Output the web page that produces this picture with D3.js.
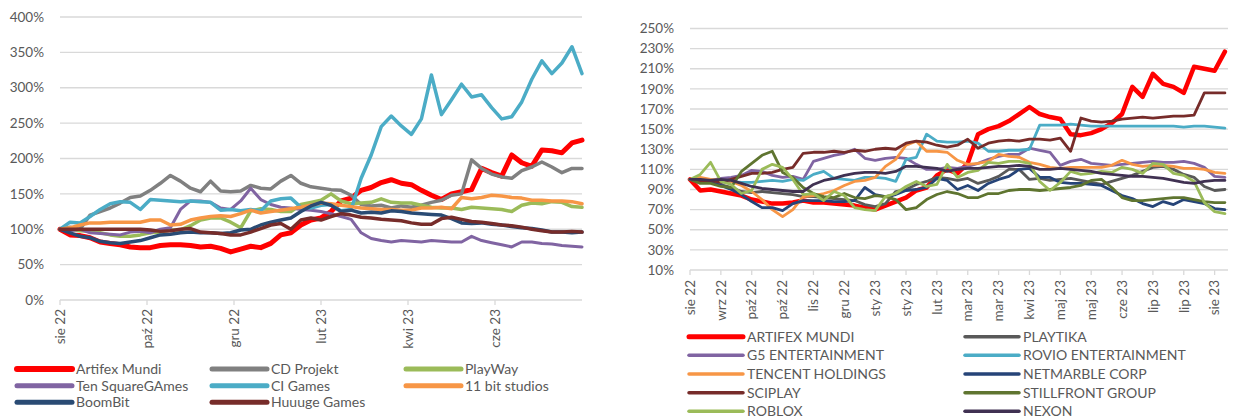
<!DOCTYPE html>
<html><head><meta charset="utf-8">
<script src="https://cdn.jsdelivr.net/npm/d3@7"></script>
<style>
body{margin:0;background:#fff;}
svg{display:block;font-family:Lato,"Open Sans",sans-serif;}
</style>
</head><body>
<svg id="chart" width="1233" height="418"></svg>
<script>
// ---------- LEFT PANEL DATA (weekly samples, % of start) ----------
const leftTickLabels = ["sie 22","paź 22","gru 22","lut 23","kwi 23","cze 23"];
const leftNames = ["Artifex Mundi","CD Projekt","PlayWay","Ten SquareGAmes","CI Games","11 bit studios","BoomBit","Huuuge Games"];
const leftColors = ["#FF0000","#808080","#9BBB59","#8064A2","#4BACC6","#F79646","#2A4B74","#772C2A"];

const artifexL = [100,92,91,88,82,80,78,75,74,74,77,78,78,77,75,76,73,68,72,76,74,80,92,95,106,113,116,125,140,144,155,159,166,170,165,163,155,148,142,150,153,156,186,180,175,205,194,189,212,211,208,222,226];
const cdProjektL = [100,103,100,120,125,130,137,145,147,155,165,176,168,158,153,168,154,153,154,162,158,157,168,176,165,160,158,156,155,148,135,133,134,130,133,131,134,138,141,148,150,198,186,178,174,172,183,188,195,188,180,186,186];
const playWayL = [100,100,98,97,95,92,90,90,92,95,96,99,99,105,113,116,116,110,102,126,129,128,125,125,135,138,141,150,140,136,137,138,143,138,137,137,134,131,130,130,128,131,130,129,128,125,134,137,136,139,138,132,131];
const tenSquareL = [100,98,100,95,94,93,92,96,97,95,100,102,128,140,140,138,130,128,140,158,142,135,131,130,128,127,125,122,118,114,95,87,84,82,84,83,82,84,83,82,82,90,84,81,78,75,82,82,80,79,77,76,75];
const ciGamesL = [100,110,109,118,128,136,139,138,128,142,141,140,139,140,139,138,127,128,126,128,126,140,143,144,131,130,134,135,126,128,172,205,245,260,246,234,256,318,262,283,305,287,290,272,256,259,280,312,338,320,335,358,320];
const elevenBitL = [100,102,106,109,109,110,110,110,110,113,113,106,107,113,116,118,119,118,122,127,123,125,127,129,131,134,137,136,134,132,130,129,128,128,127,127,130,130,131,129,145,143,145,148,147,145,144,141,141,140,140,139,136];
const boomBitL = [100,95,90,88,83,81,80,82,84,88,92,93,95,96,95,95,94,95,99,100,106,110,113,116,125,133,138,134,125,127,123,124,123,126,125,123,122,121,120,115,109,108,109,107,106,104,102,101,99,96,96,95,96];
const huuugeL = [100,100,100,100,100,100,100,100,100,99,97,98,100,101,96,95,94,92,92,96,101,106,108,100,113,116,113,118,122,120,117,116,114,113,112,109,107,107,115,117,114,111,110,108,106,105,103,100,98,96,96,97,96];
const leftSeries = [artifexL,cdProjektL,playWayL,tenSquareL,ciGamesL,elevenBitL,boomBitL,huuugeL];

// ---------- RIGHT PANEL DATA ----------
const rightTickLabels = ["sie 22","wrz 22","paź 22","paź 22","lis 22","gru 22","sty 23","sty 23","lut 23","mar 23","mar 23","kwi 23","maj 23","maj 23","cze 23","lip 23","lip 23","sie 23"];
const rightNames = ["ARTIFEX MUNDI","PLAYTIKA","G5 ENTERTAINMENT","ROVIO ENTERTAINMENT","TENCENT HOLDINGS","NETMARBLE CORP","SCIPLAY","STILLFRONT GROUP","ROBLOX","NEXON"];
const rightColors = ["#FF0000","#595959","#8064A2","#4BACC6","#F79646","#264478","#772C2A","#5F7530","#9BBB59","#403152"];

const artifexR = [100,89,90,88,86,84,80,78,76,76,77,79,77,77,76,75,74,72,70,74,78,82,89,92,104,110,106,116,145,150,153,158,165,172,165,162,160,145,144,146,150,156,165,192,182,205,195,192,186,212,210,208,227];
const playtikaR = [100,99,98,95,92,88,87,88,87,86,85,83,83,82,81,80,79,75,73,76,88,90,95,98,102,101,99,101,96,99,103,110,110,100,101,99,100,101,99,97,95,98,101,104,108,112,113,110,105,102,93,89,90];
const g5R = [100,101,99,101,102,104,109,108,104,102,103,100,118,121,124,126,130,121,119,121,122,121,115,110,110,112,111,113,116,120,123,125,125,131,129,127,114,118,120,116,115,114,115,116,117,118,117,117,118,116,112,103,102];
const rovioR = [100,99,100,97,98,97,97,98,99,98,100,99,105,108,101,100,99,102,102,101,98,120,122,145,138,137,137,138,136,128,128,129,129,130,154,154,154,155,154,153,153,153,153,153,153,153,153,153,152,153,153,152,151];
const tencentR = [100,102,100,99,98,94,88,80,70,63,70,83,84,86,89,94,98,99,102,113,120,134,138,128,128,127,119,115,116,118,125,123,122,117,115,112,111,112,112,112,112,114,119,115,113,114,114,113,111,111,110,107,106];
const netmarbleR = [100,98,97,94,90,85,78,72,72,69,76,79,79,79,78,78,79,92,85,83,85,89,90,92,101,99,90,94,89,96,100,103,110,111,102,102,97,96,96,95,94,89,84,81,76,73,78,75,80,78,76,71,70];
const sciplayR = [100,98,99,97,100,103,106,106,107,110,112,126,127,127,128,127,129,128,130,131,130,136,138,137,134,132,134,140,131,136,138,139,138,140,140,139,141,128,161,158,157,158,160,161,162,161,162,163,163,164,186,186,186];
const stillfrontR = [100,96,96,93,92,108,116,124,128,107,102,92,86,83,82,86,82,81,84,83,80,70,72,80,85,88,86,82,82,86,86,89,90,90,89,90,91,92,94,99,100,92,82,79,79,80,81,82,82,80,78,77,77];
const robloxR = [100,105,117,98,95,86,89,110,115,112,100,85,86,79,88,84,72,70,69,83,86,93,98,93,95,115,102,107,109,117,116,118,118,116,98,89,97,108,105,106,108,107,112,110,106,116,115,106,104,98,77,68,66];
const nexonR = [100,100,99,100,99,96,93,91,90,89,88,88,95,99,101,104,106,107,107,106,108,113,113,112,111,108,110,111,111,112,113,113,114,113,110,110,111,110,109,108,106,105,104,103,103,102,101,99,97,96,98,99,99];
const rightSeries = [artifexR,playtikaR,g5R,rovioR,tencentR,netmarbleR,sciplayR,stillfrontR,robloxR,nexonR];

// ---------- DRAW ----------
const svg = d3.select("#chart");
const TXT = "#595959", GRID = "#D9D9D9";

function panel(o){
  const g = svg.append("g");
  const n = o.series[0].length;
  const x = d3.scaleLinear().domain([0, o.xMax]).range(o.xRange);
  const y = d3.scaleLinear().domain(o.yDomain).range(o.yRange);
  const yTicks = d3.range(o.yDomain[0], o.yDomain[1] + 0.001, o.yStep);
  // gridlines
  g.append("g").selectAll("line").data(yTicks).join("line")
    .attr("x1", o.xRange[0]).attr("x2", o.xRange[1])
    .attr("y1", d => y(d)).attr("y2", d => y(d))
    .attr("stroke", GRID).attr("stroke-width", 1.3);
  // y labels
  g.append("g").selectAll("text").data(yTicks).join("text")
    .attr("x", o.yLabelX).attr("y", d => y(d)).attr("dy", "0.35em")
    .attr("text-anchor", "end").attr("fill", TXT).style("font-size", "13.5px")
    .text(d => d + "%");
  // x tick marks & labels
  const tickPos = o.tickLabels.map((t, i) => i * o.tickStep);
  const y0 = y(o.yDomain[0]);
  g.append("g").selectAll("line").data(tickPos).join("line")
    .attr("x1", d => x(d)).attr("x2", d => x(d))
    .attr("y1", y0).attr("y2", y0 + 5)
    .attr("stroke", GRID).attr("stroke-width", 1.3);
  g.append("g").selectAll("text").data(o.tickLabels).join("text")
    .attr("transform", (d, i) => `translate(${x(tickPos[i])},${y0 + o.labelGap}) rotate(-90)`)
    .attr("dy", "0.35em").attr("text-anchor", "end").attr("fill", TXT)
    .style("font-size", "13.5px").text(d => d);
  // lines
  const line = d3.line().x((d, i) => x(i)).y(d => y(d));
  g.append("g").selectAll("path").data(o.series).join("path")
    .attr("d", line).attr("fill", "none")
    .attr("stroke", (d, i) => o.colors[i])
    .attr("stroke-width", (d, i) => o.widths[i])
    .attr("stroke-linejoin", "round").attr("stroke-linecap", "round");
  // legend
  const lg = g.append("g").selectAll("g").data(o.names).join("g")
    .attr("transform", (d, i) => `translate(${o.legCols[i % o.legCols.length]},${o.legRows[Math.floor(i / o.legCols.length)]})`);
  lg.append("line").attr("x1", 0).attr("x2", o.legLen).attr("y1", 0).attr("y2", 0)
    .attr("stroke", (d, i) => o.colors[i]).attr("stroke-width", (d, i) => o.legWidths[i])
    .attr("stroke-linecap", "round");
  lg.append("text").attr("x", o.legLen + 4).attr("y", 0).attr("dy", "0.35em")
    .attr("fill", TXT).style("font-size", o.legFont).text(d => d);
}

panel({
  series: leftSeries, names: leftNames, colors: leftColors,
  widths: [5, 3.5, 3.5, 3, 3.5, 3.5, 3.5, 3.5],
  legWidths: [6, 5, 5, 5, 5, 5, 5, 5],
  xMax: 52, xRange: [60, 582], yDomain: [0, 400], yRange: [300, 17], yStep: 50,
  yLabelX: 44, tickLabels: leftTickLabels, tickStep: 52 / 6, labelGap: 9,
  legCols: [17, 212, 406], legRows: [369, 385.7, 402.3], legLen: 55, legFont: "14px"
});

panel({
  series: rightSeries, names: rightNames, colors: rightColors,
  widths: [4.5, 2.8, 2.8, 2.8, 2.8, 2.8, 2.8, 2.8, 2.8, 2.8],
  legWidths: [5, 3.5, 3.5, 3.5, 3.5, 3.5, 3.5, 3.5, 3.5, 3.5],
  xMax: 52.3, xRange: [690, 1228], yDomain: [10, 250], yRange: [270, 28.5], yStep: 20,
  yLabelX: 674, tickLabels: rightTickLabels, tickStep: 3, labelGap: 10,
  legCols: [689, 965], legRows: [336.7, 355.3, 374, 392.7, 411.3], legLen: 54, legFont: "14px"
});
</script>
</body></html>
